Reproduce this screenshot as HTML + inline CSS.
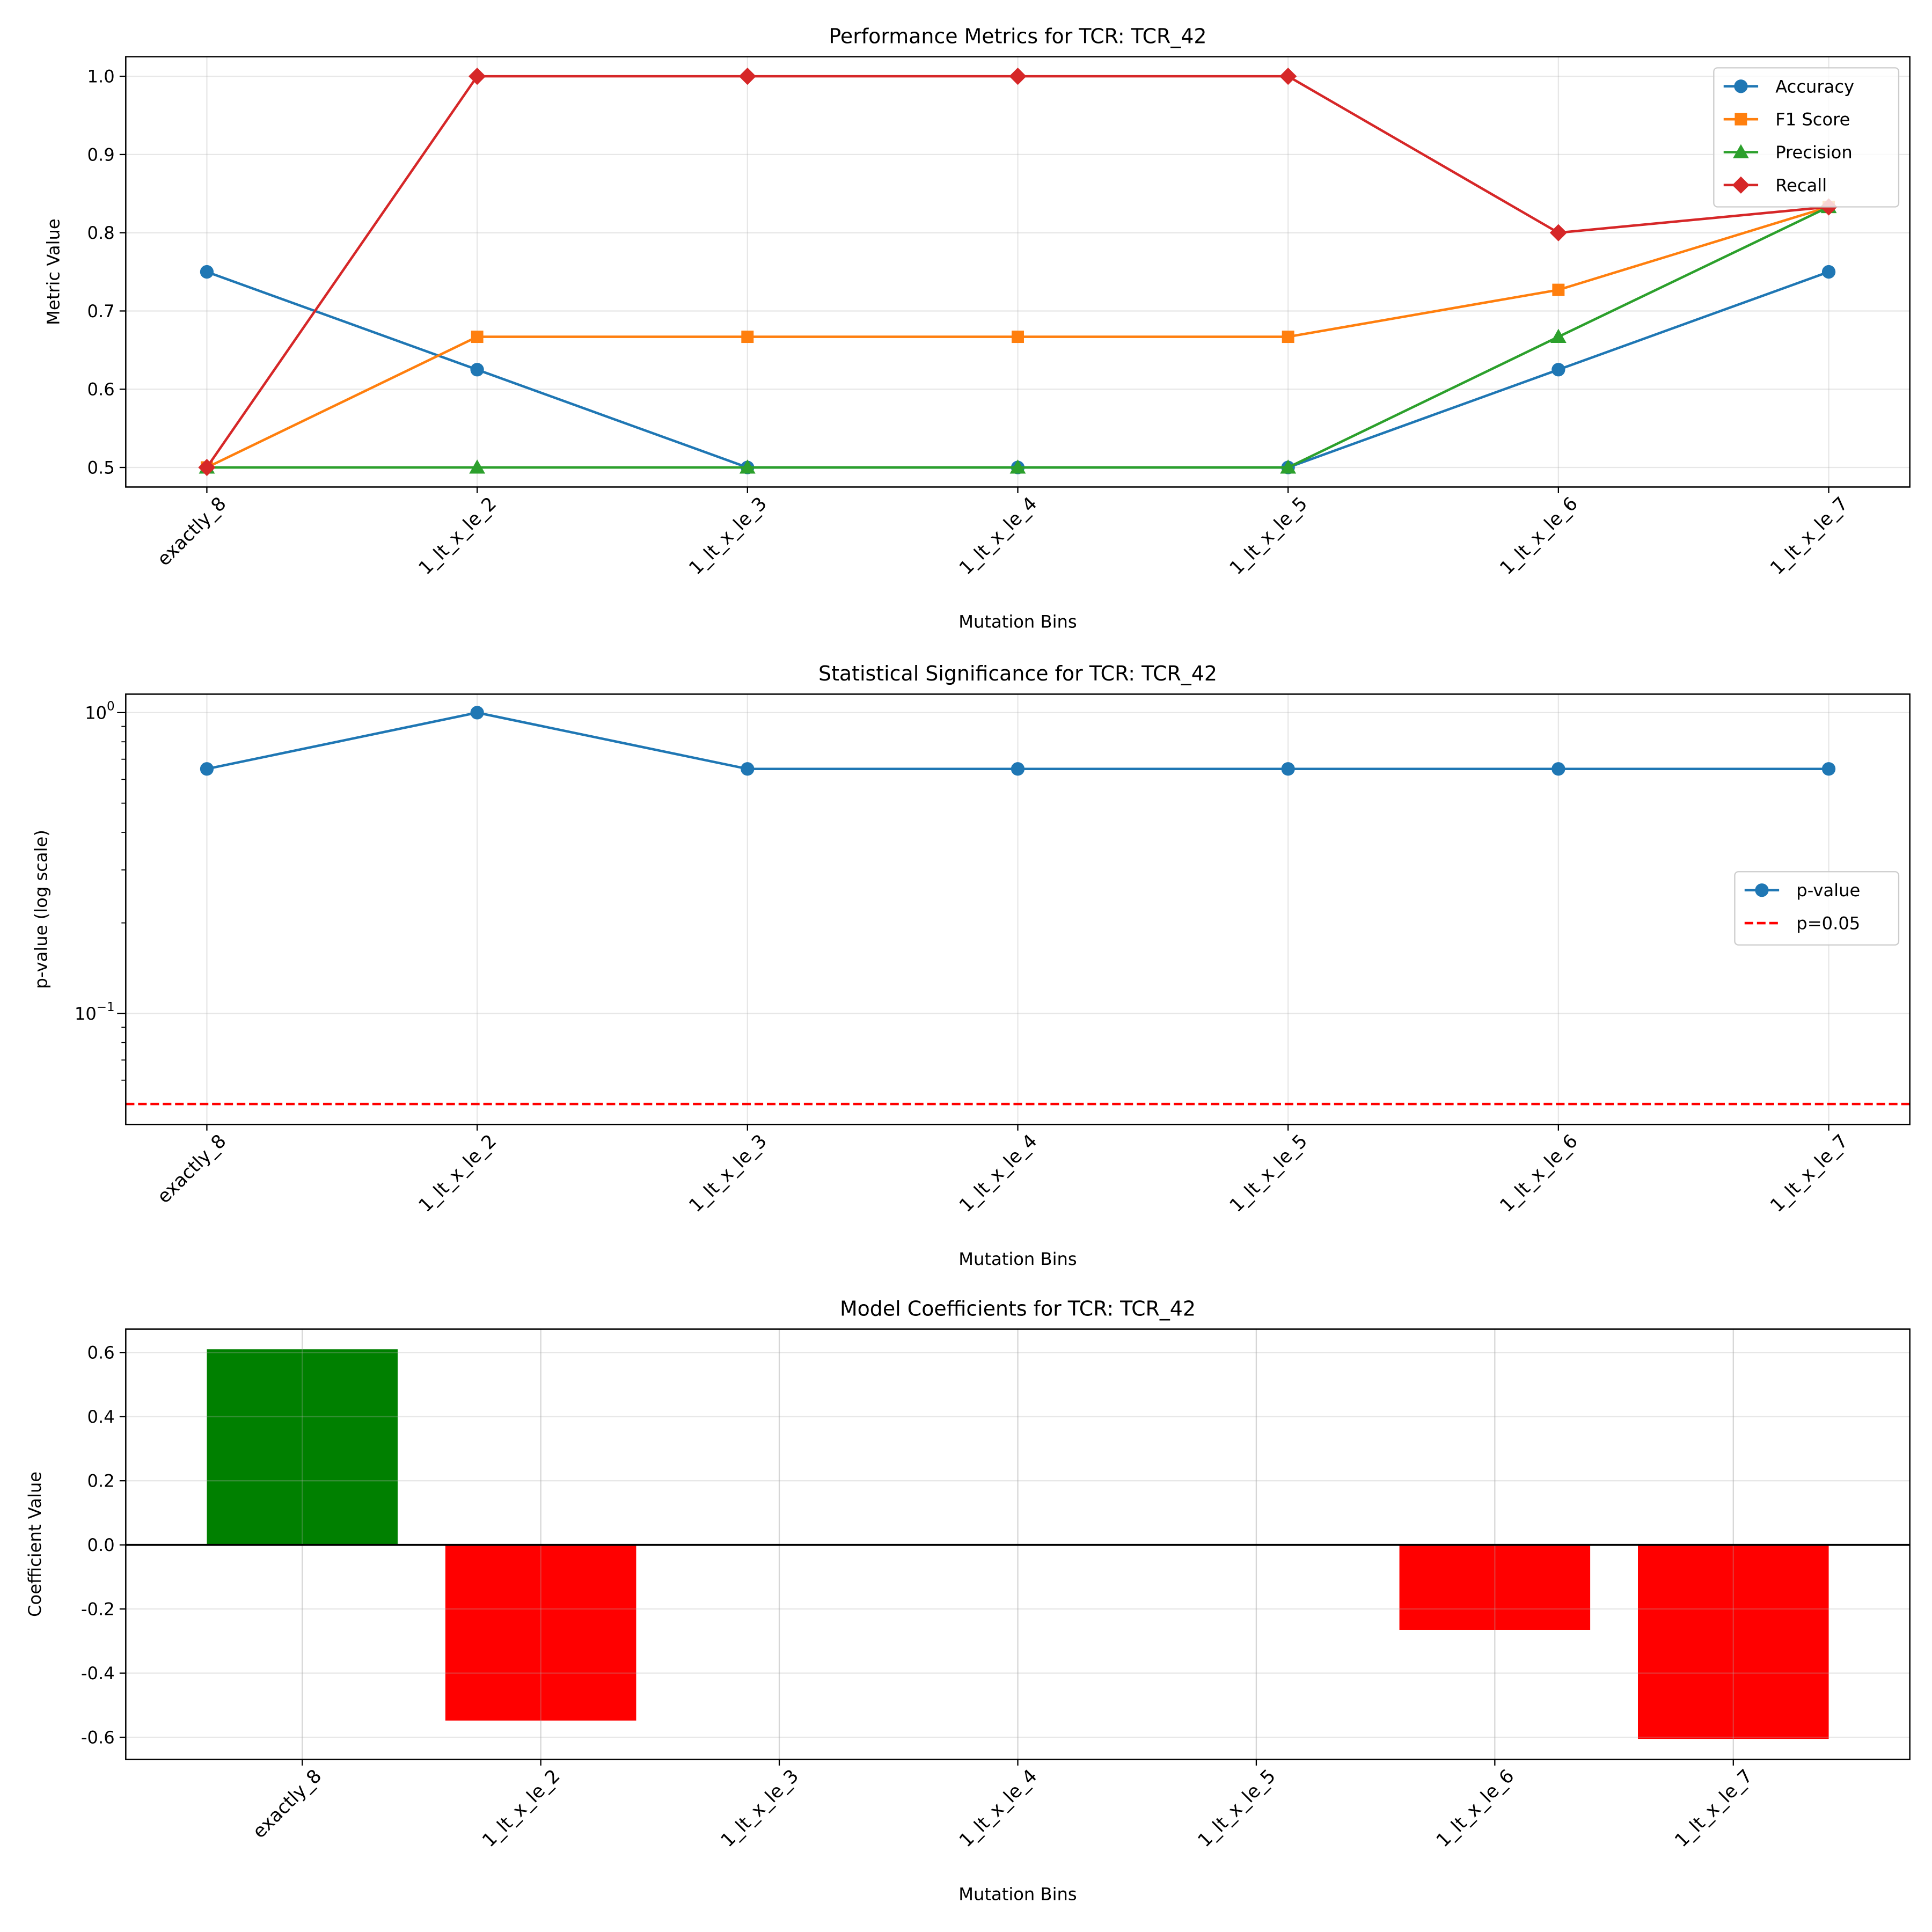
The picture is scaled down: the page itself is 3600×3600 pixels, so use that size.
<!DOCTYPE html>
<html><head><meta charset="utf-8"><style>
html,body{margin:0;padding:0;background:#fff;}
svg{display:block;font-family:"DejaVu Sans","Liberation Sans",sans-serif;}
</style></head><body>
<svg id="chart" width="3600" height="3600" viewBox="0 0 1567 1567" xmlns="http://www.w3.org/2000/svg"></svg>
<script>
const categories=["exactly_8","1_lt_x_le_2","1_lt_x_le_3","1_lt_x_le_4","1_lt_x_le_5","1_lt_x_le_6","1_lt_x_le_7"];
const accuracy=[0.75,0.625,0.5,0.5,0.5,0.625,0.75];
const f1Score=[0.5,0.667,0.667,0.667,0.667,0.727,0.833];
const precision=[0.5,0.5,0.5,0.5,0.5,0.667,0.833];
const recall=[0.5,1,1,1,1,0.8,0.833];
const pValues=[0.65,1.0,0.65,0.65,0.65,0.65,0.65];
const pThreshold=0.05;
const coefficients=[0.61,-0.548,0,0,0,-0.265,-0.605];
const perfTicks=[0.5,0.6,0.7,0.8,0.9,1.0];
const coefTicks=[-0.6,-0.4,-0.2,0.0,0.2,0.4,0.6];

const svg=document.getElementById('chart');
const NS="http://www.w3.org/2000/svg";
function el(tag,attrs,parent,text){const e=document.createElementNS(NS,tag);for(const k in attrs)e.setAttribute(k,attrs[k]);if(text!==undefined)e.textContent=text;(parent||svg).appendChild(e);return e;}
const L=102,R=1549;

function panel(name,top,bottom,title,ylab,ylx,xmin,xmax,ymin,ymax,logY){
  const g=el('g',{});
  
  
  const xs=v=>L+(v-xmin)/(xmax-xmin)*(R-L);
  const ys=v=>{const t=logY?Math.log10(v):v;return bottom-(t-ymin)/(ymax-ymin)*(bottom-top);};
  const t=el('text',{x:(L+R)/2,y:top-11,'text-anchor':'middle','font-size':16.5},g,title);
  
  const yl=el('text',{x:0,y:0,transform:`translate(${ylx},${(top+bottom)/2}) rotate(-90)`,'text-anchor':'middle','font-size':14},g,ylab);
  
  const xl=el('text',{x:(L+R)/2,y:bottom+114,'text-anchor':'middle','font-size':14},g,'Mutation Bins');
  
  categories.forEach((c,i)=>{
    const x=xs(i);
    el('line',{x1:x,x2:x,y1:top,y2:bottom,stroke:'#b0b0b0','stroke-opacity':0.3,'stroke-width':1},g);
    el('line',{x1:x,x2:x,y1:bottom,y2:bottom+5,stroke:'#000','stroke-width':1},g);
    const lb=el('text',{x:0,y:0,transform:`translate(${x+13},${bottom+11}) rotate(-45)`,'text-anchor':'end','font-size':15,'dominant-baseline':'central'},g,c);
    
  });
  return {g,xs,ys};
}
function yTick(p,y,label,grid,len){
  if(grid)el('line',{x1:L,x2:R,y1:y,y2:y,stroke:'#b0b0b0','stroke-opacity':0.3,'stroke-width':1},p.g);
  el('line',{x1:L-(len||5),x2:L,y1:y,y2:y,stroke:'#000','stroke-width':1},p.g);
  if(label!==null){const t=el('text',{x:L-9,y:y+5,'text-anchor':'end','font-size':14},p.g,label);
  }
}
function frame(p,top,bottom){el('rect',{x:L,y:top,width:R-L,height:bottom-top,fill:'none',stroke:'#000','stroke-width':1.1},p.g);}
function marker(g,type,x,y,c){
  if(type==='o')return el('circle',{cx:x,cy:y,r:5.5,fill:c},g);
  if(type==='s')return el('rect',{x:x-5,y:y-5,width:10,height:10,fill:c},g);
  if(type==='^')return el('polygon',{points:`${x},${y-6.5} ${x+6.5},${y+5} ${x-6.5},${y+5}`,fill:c},g);
  if(type==='D')return el('polygon',{points:`${x},${y-7} ${x+7},${y} ${x},${y+7} ${x-7},${y}`,fill:c},g);
}
function series(p,vals,c,type,name){
  const sg=el('g',{},p.g);
  
  el('polyline',{points:vals.map((v,i)=>p.xs(i)+','+p.ys(v)).join(' '),fill:'none',stroke:c,'stroke-width':2},sg);
  vals.forEach((v,i)=>{const m=marker(sg,type,p.xs(i),p.ys(v),c);});
}
function legend(g,x,y,w,entries){
  const lg=el('g',{},g);
  
  el('rect',{x:x,y:y,width:w,height:entries.length*26.7+6,rx:3,fill:'#fff','fill-opacity':0.8,stroke:'#ccc'},lg);
  entries.forEach((e,i)=>{
    const eg=el('g',{},lg);
    
    const cy=y+15+i*26.7;
    el('line',{x1:x+8,x2:x+36,y1:cy,y2:cy,stroke:e.c,'stroke-width':2,'stroke-dasharray':e.dash||''},eg);
    if(e.m)marker(eg,e.m,x+22,cy,e.c);
    el('text',{x:x+50,y:cy+5,'font-size':14},eg,e.t);
  });
}

// Panel 1
const p1=panel('performance-panel',46,395,'Performance Metrics for TCR: TCR_42','Metric Value',48,-0.3,6.3,0.475,1.025,false);
perfTicks.forEach(v=>yTick(p1,p1.ys(v),v.toFixed(1),true));
series(p1,accuracy,'#1f77b4','o','accuracy-series');
series(p1,f1Score,'#ff7f0e','s','f1-series');
series(p1,precision,'#2ca02c','^','precision-series');
series(p1,recall,'#d62728','D','recall-series');
frame(p1,46,395);
legend(p1.g,1390,55,150,[{t:'Accuracy',c:'#1f77b4',m:'o'},{t:'F1 Score',c:'#ff7f0e',m:'s'},{t:'Precision',c:'#2ca02c',m:'^'},{t:'Recall',c:'#d62728',m:'D'}]);

// Panel 2
const p2=panel('pvalue-panel',563,912,'Statistical Significance for TCR: TCR_42','p-value (log scale)',38,-0.3,6.3,-1.369,0.0615,true);
yTick(p2,p2.ys(1),null,true,7);yTick(p2,p2.ys(0.1),null,true,7);
[[1,'10','0'],[0.1,'10','\u22121']].forEach(([v,b,e])=>{
  const t=el('text',{x:L-9,y:p2.ys(v)+5,'text-anchor':'end','font-size':14},p2.g);
  
  el('tspan',{},t,b);el('tspan',{dy:-7,'font-size':10},t,e);
});
[0.06,0.07,0.08,0.09,0.2,0.3,0.4,0.5,0.6,0.7,0.8,0.9].forEach(v=>el('line',{x1:L-3.5,x2:L,y1:p2.ys(v),y2:p2.ys(v),stroke:'#000','stroke-width':0.8},p2.g));
const th=el('line',{x1:L,x2:R,y1:p2.ys(pThreshold),y2:p2.ys(pThreshold),stroke:'#ff0000','stroke-width':2,'stroke-dasharray':'7,3'},p2.g);

series(p2,pValues,'#1f77b4','o','pvalue-series');
frame(p2,563,912);
legend(p2.g,1407,707,133,[{t:'p-value',c:'#1f77b4',m:'o'},{t:'p=0.05',c:'#ff0000',dash:'7,3'}]);

// Panel 3
const p3=panel('coefficient-panel',1078,1427,'Model Coefficients for TCR: TCR_42','Coefficient Value',33,-0.74,6.74,-0.669,0.673,false);
coefTicks.forEach(v=>yTick(p3,p3.ys(v),v.toFixed(1),false));
coefficients.forEach((v,i)=>{
  const x0=p3.xs(i-0.4),x1=p3.xs(i+0.4),y0=p3.ys(0),y1=p3.ys(v);
  const b=el('rect',{x:x0,y:Math.min(y0,y1),width:x1-x0,height:Math.abs(y1-y0),fill:v>=0?'#008000':'#ff0000'},p3.g);
  
});
coefTicks.forEach(v=>el('line',{x1:L,x2:R,y1:p3.ys(v),y2:p3.ys(v),stroke:'#b0b0b0','stroke-opacity':0.3,'stroke-width':1},p3.g));
categories.forEach((c,i)=>el('line',{x1:p3.xs(i),x2:p3.xs(i),y1:1078,y2:1427,stroke:'#b0b0b0','stroke-opacity':0.3,'stroke-width':1},p3.g));
const zl=el('line',{x1:L,x2:R,y1:p3.ys(0),y2:p3.ys(0),stroke:'#000','stroke-width':1.6},p3.g);

frame(p3,1078,1427);
</script>
</body></html>
